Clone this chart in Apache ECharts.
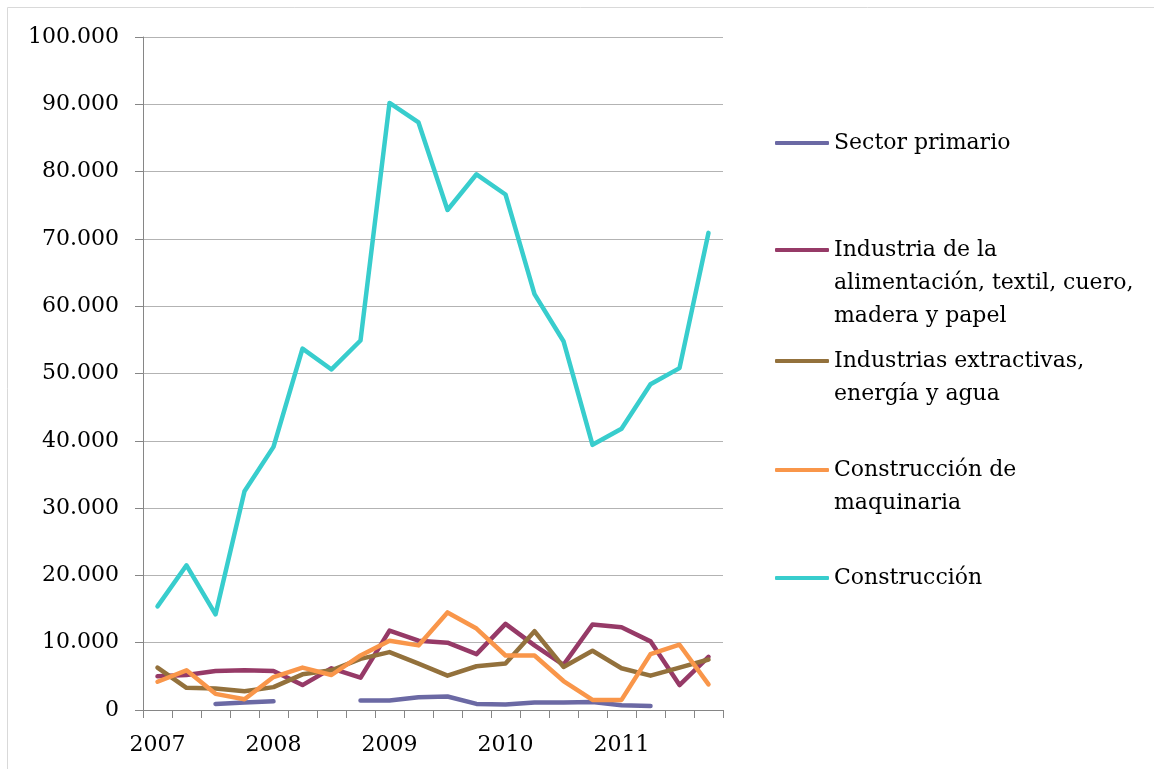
<!DOCTYPE html>
<html>
<head>
<meta charset="utf-8">
<script src="https://cdn.jsdelivr.net/npm/echarts@6/dist/echarts.min.js"></script>
<style>
html,body{margin:0;padding:0;background:#fff;}
#c{width:1154px;height:769px;}
</style>
</head>
<body>
<div id="c"></div>
<script>
// Data
const years = ['2007','2008','2009','2010','2011'];
const quarters = ['T1','T2','T3','T4'];
const categories = [];
years.forEach(y => quarters.forEach(q => categories.push(y + ' ' + q)));

const seriesNames = [
  'Sector primario',
  'Industria de la\nalimentación, textil, cuero,\nmadera y papel',
  'Industrias extractivas,\nenergía y agua',
  'Construcción de\nmaquinaria',
  'Construcción'
];
const sectorPrimario = [null, null, 900, 1100, 1300, null, null, 1400, 1400, 1900, 2000, 900, 800, 1100, 1100, 1200, 700, 600, null, null];
const industriaAlimentacion = [5000, 5200, 5800, 5900, 5800, 3700, 6200, 4800, 11800, 10300, 10000, 8300, 12800, 9600, 6700, 12700, 12300, 10200, 3700, 7900];
const industriasExtractivas = [6300, 3300, 3200, 2800, 3400, 5300, 5900, 7600, 8600, 6900, 5100, 6500, 6900, 11700, 6400, 8800, 6200, 5100, 6300, 7500];
const construccionMaquinaria = [4200, 5900, 2400, 1600, 4900, 6300, 5200, 8100, 10300, 9600, 14500, 12100, 8100, 8100, 4300, 1500, 1500, 8300, 9700, 3800];
const construccion = [15400, 21500, 14200, 32500, 39100, 53700, 50600, 54900, 90200, 87300, 74300, 79600, 76600, 61800, 54800, 39400, 41800, 48400, 50800, 70900];
const yTicks = [0, 10000, 20000, 30000, 40000, 50000, 60000, 70000, 80000, 90000, 100000];

const colors = ['#6B69A4', '#963A67', '#93713C', '#F9964A', '#38CDCD'];
const allData = [sectorPrimario, industriaAlimentacion, industriasExtractivas, construccionMaquinaria, construccion];

const FONT = 'DejaVu Serif';
const LH = 33;
const legendFirstLineY = [143, 250, 361, 470, 578];

function fmt(v) {
  if (v === 0) return '0';
  const s = String(Math.round(v));
  return s.replace(/\B(?=(\d{3})+(?!\d))/g, '.');
}

const legends = seriesNames.map((name, i) => {
  const n = name.split('\n').length;
  return {
    data: [name],
    orient: 'vertical',
    left: 775,
    top: legendFirstLineY[i] - (2 * n - 1) * LH / 2,
    padding: 0,
    icon: 'roundRect',
    itemWidth: 54,
    itemHeight: 4,
    selectedMode: false,
    // blank leading lines so that the icon sits on the first text line
    formatter: nm => '\n'.repeat(nm.split('\n').length - 1) + nm,
    textStyle: {
      fontFamily: FONT,
      fontSize: 22,
      color: '#000',
      lineHeight: LH,
      backgroundColor: 'rgba(255,255,255,0)'
    }
  };
});

const chart = echarts.init(document.getElementById('c'), null, {renderer: 'canvas'});
chart.setOption({
  animation: false,
  color: colors,
  graphic: [
    {type: 'line', shape: {x1: 7.5, y1: 7.5, x2: 1154, y2: 7.5}, style: {stroke: '#d9d9d9', lineWidth: 1}},
    {type: 'line', shape: {x1: 7.5, y1: 7.5, x2: 7.5, y2: 769}, style: {stroke: '#d9d9d9', lineWidth: 1}}
  ],
  grid: {left: 143, right: 431, top: 37, bottom: 59, containLabel: false},
  legend: legends,
  xAxis: {
    type: 'category',
    data: categories,
    boundaryGap: true,
    axisLine: {lineStyle: {color: '#868686', width: 1}},
    axisTick: {show: true, interval: 0, length: 8, lineStyle: {color: '#868686'}},
    axisLabel: {
      interval: 3,
      margin: 24,
      fontFamily: FONT,
      fontSize: 22,
      color: '#000',
      formatter: v => v.slice(0, 4)
    },
    splitLine: {show: false}
  },
  yAxis: {
    type: 'value',
    min: yTicks[0],
    max: yTicks[yTicks.length - 1],
    interval: yTicks[1] - yTicks[0],
    axisLine: {show: true, lineStyle: {color: '#868686', width: 1}},
    axisTick: {show: true, length: 8, lineStyle: {color: '#868686'}},
    axisLabel: {
      margin: 24,
      fontFamily: FONT,
      fontSize: 22,
      color: '#000',
      formatter: fmt
    },
    splitLine: {lineStyle: {color: '#b3b3b3', width: 1}}
  },
  series: seriesNames.map((name, i) => ({
    name: name,
    type: 'line',
    data: allData[i],
    showSymbol: false,
    symbol: 'none',
    connectNulls: false,
    lineStyle: {width: 4.5, color: colors[i], cap: 'round', join: 'round'},
    itemStyle: {color: colors[i]},
    emphasis: {disabled: true}
  }))
});
</script>
</body>
</html>
